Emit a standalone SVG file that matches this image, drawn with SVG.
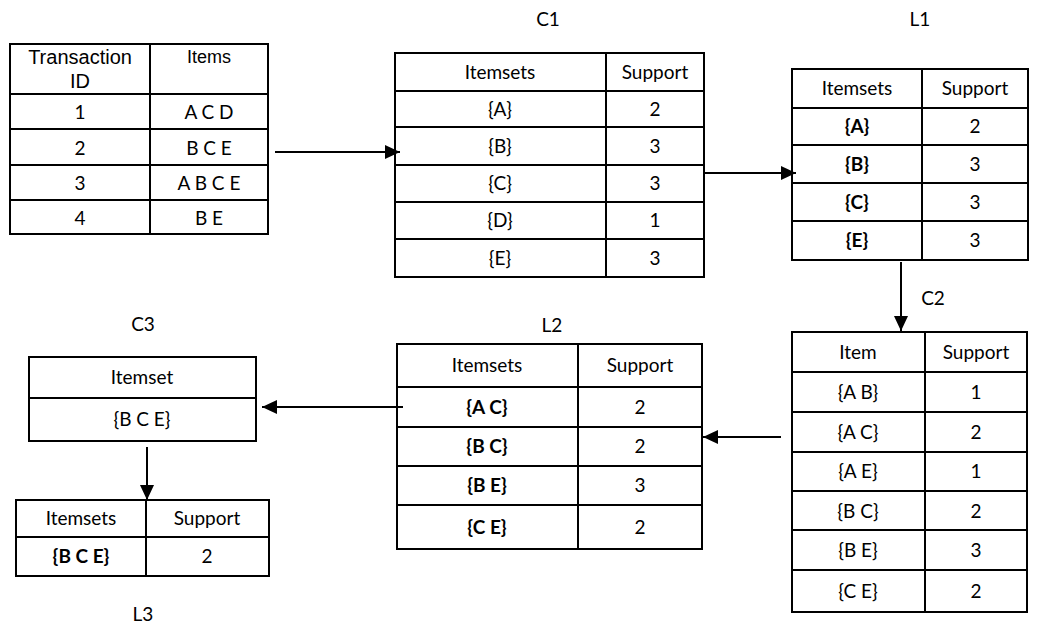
<svg xmlns="http://www.w3.org/2000/svg" width="1046" height="626" viewBox="0 0 1046 626">
<style>
.b{fill:#fff;stroke:#000;stroke-width:2}
.l{stroke:#000;stroke-width:2}
text{font-family:Lato,"Open Sans",sans-serif;font-size:19px;fill:#000;text-anchor:middle}
.a{font-family:"Liberation Sans",Arial,sans-serif;font-size:20px}
.bd{font-weight:bold}
.c{stroke:#000;stroke-width:2;fill:none;marker-end:url(#ah)}
</style>
<defs>
<marker id="ah" markerUnits="userSpaceOnUse" markerWidth="16" markerHeight="16" viewBox="0 0 16 16" refX="15" refY="8" orient="auto">
<path d="M0,1 L15,8 L0,15 z" fill="#000"/>
</marker>
</defs>
<rect width="1046" height="626" fill="#fff"/>
<g id="labels">
<text x="548" y="26">C1</text>
<text x="920" y="26">L1</text>
<text x="933" y="305">C2</text>
<text x="552" y="332">L2</text>
<text x="143" y="331">C3</text>
<text x="143" y="621">L3</text>
</g>
<g id="transactions">
<rect class="b" x="10" y="44" width="258" height="190"/>
<path class="l" d="M150,44V234M10,94H268M10,129H268M10,165H268M10,200H268"/>
<text class="a" x="80" y="64">Transaction</text>
<text class="a" x="80" y="88">ID</text>
<text class="a" x="209" y="63" style="font-size:18px">Items</text>
<text x="80" y="119">1</text><text x="209" y="119">A C D</text>
<text x="80" y="155">2</text><text x="209" y="155">B C E</text>
<text x="80" y="190">3</text><text x="209" y="190">A B C E</text>
<text x="80" y="225">4</text><text x="209" y="225">B E</text>
</g>
<g id="C1">
<rect class="b" x="395" y="53" width="309" height="224"/>
<path class="l" d="M606,53V277M395,91H704M395,127H704M395,165H704M395,202H704M395,239H704"/>
<text x="500" y="79">Itemsets</text><text x="655" y="79">Support</text>
<text x="500" y="116">{A}</text><text x="655" y="116">2</text>
<text x="500" y="153">{B}</text><text x="655" y="153">3</text>
<text x="500" y="190">{C}</text><text x="655" y="190">3</text>
<text x="500" y="227">{D}</text><text x="655" y="227">1</text>
<text x="500" y="265">{E}</text><text x="655" y="265">3</text>
</g>
<g id="L1">
<rect class="b" x="792" y="69" width="236" height="191"/>
<path class="l" d="M922,69V260M792,108H1028M792,145H1028M792,183H1028M792,221H1028"/>
<text x="857" y="95">Itemsets</text><text x="975" y="95">Support</text>
<text class="bd" x="857" y="133">{A}</text><text x="975" y="133">2</text>
<text class="bd" x="857" y="171">{B}</text><text x="975" y="171">3</text>
<text class="bd" x="857" y="209">{C}</text><text x="975" y="209">3</text>
<text class="bd" x="857" y="247">{E}</text><text x="975" y="247">3</text>
</g>
<g id="C2">
<rect class="b" x="792" y="332" width="235" height="280"/>
<path class="l" d="M925,332V612M792,372H1027M792,412H1027M792,452H1027M792,491H1027M792,530H1027M792,570H1027"/>
<text x="858" y="359">Item</text><text x="976" y="359">Support</text>
<text x="858" y="399">{A B}</text><text x="976" y="399">1</text>
<text x="858" y="439">{A C}</text><text x="976" y="439">2</text>
<text x="858" y="478">{A E}</text><text x="976" y="478">1</text>
<text x="858" y="518">{B C}</text><text x="976" y="518">2</text>
<text x="858" y="557">{B E}</text><text x="976" y="557">3</text>
<text x="858" y="598">{C E}</text><text x="976" y="598">2</text>
</g>
<g id="L2">
<rect class="b" x="397" y="344" width="305" height="205"/>
<path class="l" d="M578,344V549M397,387H702M397,427H702M397,466H702M397,505H702"/>
<text x="487" y="372">Itemsets</text><text x="640" y="372">Support</text>
<text class="bd" x="487" y="414">{A C}</text><text x="640" y="414">2</text>
<text class="bd" x="487" y="453">{B C}</text><text x="640" y="453">2</text>
<text class="bd" x="487" y="492">{B E}</text><text x="640" y="492">3</text>
<text class="bd" x="487" y="534">{C E}</text><text x="640" y="534">2</text>
</g>
<g id="C3">
<rect class="b" x="29" y="357" width="227" height="84"/>
<path class="l" d="M29,398H256"/>
<text x="142" y="384">Itemset</text>
<text x="142" y="426">{B C E}</text>
</g>
<g id="L3">
<rect class="b" x="16" y="500" width="253" height="76"/>
<path class="l" d="M146,500V576M16,537H269"/>
<text x="81" y="525">Itemsets</text><text x="207" y="525">Support</text>
<text class="bd" x="81" y="563">{B C E}</text><text x="207" y="563">2</text>
</g>
<g id="connectors">
<path class="c" d="M275,152H400"/>
<path class="c" d="M703,173H796"/>
<path class="c" d="M901,262V331"/>
<path class="c" d="M781,437H703"/>
<path class="c" d="M403,407H262"/>
<path class="c" d="M147,447V500"/>
</g>
</svg>
